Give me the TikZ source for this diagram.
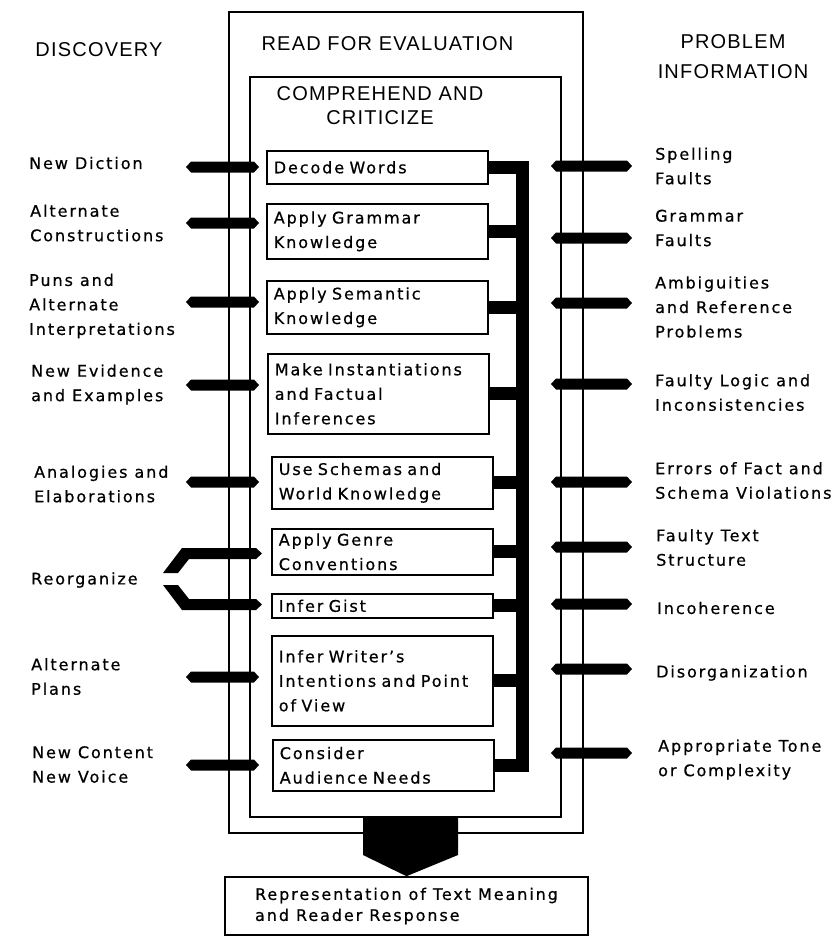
\documentclass[tikz,border=0pt]{standalone}
\usepackage{fontspec}
\setmainfont{DejaVu Sans}[LetterSpace=12, FakeBold=0.6]
\newfontfamily\headfont{Liberation Sans}[LetterSpace=6]
\newcommand\hexarrow[3]{%
  \fill (#1,#3) -- (#1+5,#3-5.5) -- (#2-5,#3-5.5) -- (#2,#3)
        -- (#2-5,#3+5.5) -- (#1+5,#3+5.5) -- cycle;}
\begin{document}
\begin{tikzpicture}[x=1pt,y=-1pt,
  every node/.style={font=\fontsize{16}{24.5}\selectfont},
  frame/.style={draw, line width=1.6pt},
  stepbox/.style={draw, line width=1.6pt, anchor=north west, align=left,
    text width=207pt, inner xsep=7pt, inner ysep=0pt},
  lbl/.style={anchor=west, align=left, inner sep=0pt},
  head/.style={font=\headfont\fontsize{20}{24}\selectfont, align=center, inner sep=0pt},
  conn/.style={line width=13pt},
]
\fill[white] (0,0) rectangle (840,938);
\useasboundingbox (0,0) rectangle (840,938);

% nested frames
\draw[frame] (229,12) rectangle (583,833);
\draw[frame] (250,77) rectangle (561,817);

% headings
\node[head] (disc) at (99,50) {DISCOVERY};
\node[head] (rfe) at (387.5,44) {READ FOR EVALUATION};
\node[head, font=\headfont\fontsize{20}{30}\selectfont] (prob) at (733,57) {PROBLEM\\INFORMATION};
\node[head] (cc) at (380,106) {COMPREHEND AND\\CRITICIZE};

% processing steps
\node[stepbox, minimum height=33] (b1) at (266,150) {Decode Words};
\node[stepbox, minimum height=55] (b2) at (266,203) {Apply Grammar\\Knowledge};
\node[stepbox, minimum height=53] (b3) at (266,280) {Apply Semantic\\Knowledge};
\node[stepbox, minimum height=80] (b4) at (267,353) {Make Instantiations\\and Factual\\Inferences};
\node[stepbox, minimum height=52] (b5) at (271,456) {Use Schemas and\\World Knowledge};
\node[stepbox, minimum height=46] (b6) at (271,528) {Apply Genre\\Conventions};
\node[stepbox, minimum height=24] (b7) at (271,593) {Infer Gist};
\node[stepbox, minimum height=90] (b8) at (271,635) {Infer Writer's\\Intentions and Point\\of View};
\node[stepbox, minimum height=51] (b9) at (272,739) {Consider\\Audience Needs};

% collecting bracket on the right of the steps
\coordinate (bar) at (522.5,0);
\draw[conn, line join=miter] (b1.east) -- (b1.east -| bar) -- (b9.east -| bar) -- (b9.east);
\foreach \b in {b2,b3,b4,b5,b6,b7,b8}
  {\draw[conn] (\b.east) -- (\b.east -| bar);}

% discovery labels
\node[lbl] (d1) at (29,163) {New Diction};
\node[lbl] (d2) at (30,223) {Alternate\\Constructions};
\node[lbl] (d3) at (29,306) {Puns and\\Alternate\\Interpretations};
\node[lbl] (d4) at (31,384.5) {New Evidence\\and Examples};
\node[lbl] (d5) at (34,484) {Analogies and\\Elaborations};
\node[lbl] (d6) at (31,580) {Reorganize};
\node[lbl] (d7) at (31,676.5) {Alternate\\Plans};
\node[lbl] (d8) at (32,764.5) {New Content\\New Voice};

% problem labels
\node[lbl] (p1) at (655,166) {Spelling\\Faults};
\node[lbl] (p2) at (655,228) {Grammar\\Faults};
\node[lbl] (p3) at (655,307) {Ambiguities\\and Reference\\Problems};
\node[lbl] (p4) at (655,392.5) {Faulty Logic and\\Inconsistencies};
\node[lbl] (p5) at (655,480.5) {Errors of Fact and\\Schema Violations};
\node[lbl] (p6) at (656,547.5) {Faulty Text\\Structure};
\node[lbl] (p7) at (657,608) {Incoherence};
\node[lbl] (p8) at (656,673) {Disorganization};
\node[lbl] (p9) at (658,759.5) {Appropriate Tone\\or Complexity};

% fat arrows on the left
\foreach \y in {167,223,302,385,482,677,765}
  {\hexarrow{186}{259}{\y}}
% split arrow for "Reorganize"
\fill (163,573) -- (182,548) -- (256,548) -- (262,553.5) -- (256,559)
      -- (189,559) -- (178,573) -- cycle;
\fill (163,585) -- (178,585) -- (189,599) -- (256,599) -- (262,604.5)
      -- (256,610) -- (182,610) -- cycle;

% fat arrows on the right
\foreach \y in {166,238,303,384,482,547,604,669,753}
  {\hexarrow{551}{632}{\y}}

% result
\node[draw, line width=1.6pt, minimum width=363, minimum height=58, align=left,
      font=\fontsize{16}{21}\selectfont] (res) at (406.5,906)
      {Representation of Text Meaning\\and Reader Response};
\fill (363,817) -- (458,817) -- (458,855) -- (res.north) -- (363,855) -- cycle;
\end{tikzpicture}
\end{document}
